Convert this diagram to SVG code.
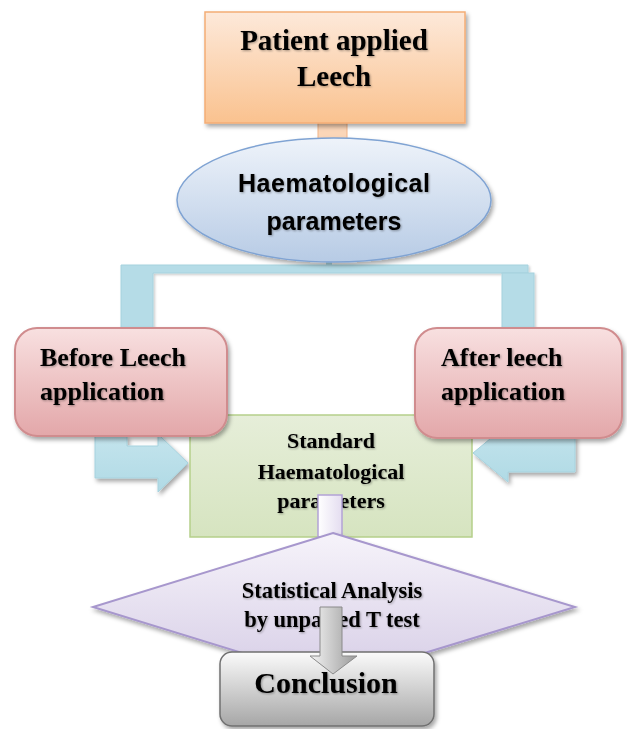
<svg xmlns="http://www.w3.org/2000/svg" width="627" height="729" viewBox="0 0 627 729">
<defs>
<linearGradient id="gOrange" x1="0" y1="0" x2="0" y2="1"><stop offset="0" stop-color="#fde9da"/><stop offset="1" stop-color="#fac28f"/></linearGradient>
<linearGradient id="gBlue" x1="0" y1="0" x2="0" y2="1"><stop offset="0" stop-color="#eef3fa"/><stop offset="1" stop-color="#b7cbe5"/></linearGradient>
<linearGradient id="gPink" x1="0" y1="0" x2="0" y2="1"><stop offset="0" stop-color="#f8e0e0"/><stop offset="1" stop-color="#e3a7a9"/></linearGradient>
<linearGradient id="gGreen" x1="0" y1="0" x2="0" y2="1"><stop offset="0" stop-color="#e6eed9"/><stop offset="1" stop-color="#d6e4c0"/></linearGradient>
<linearGradient id="gLav" x1="0" y1="0" x2="0" y2="1"><stop offset="0" stop-color="#f6f3fa"/><stop offset="1" stop-color="#d6cde6"/></linearGradient>
<linearGradient id="gLavC" x1="0" y1="0" x2="1" y2="0"><stop offset="0" stop-color="#ffffff"/><stop offset="1" stop-color="#e4ddf0"/></linearGradient>
<linearGradient id="gGray" x1="0" y1="0" x2="0" y2="1"><stop offset="0" stop-color="#fbfbfb"/><stop offset="1" stop-color="#a6a6a6"/></linearGradient>
<linearGradient id="gGrayA" x1="0" y1="0" x2="1" y2="0"><stop offset="0" stop-color="#f4f4f4"/><stop offset="1" stop-color="#9a9a9a"/></linearGradient>
<linearGradient id="gArrow" x1="0" y1="0" x2="0" y2="1"><stop offset="0" stop-color="#c4e4ed"/><stop offset="1" stop-color="#b0dae5"/></linearGradient>
<filter id="sh" x="-10%" y="-10%" width="125%" height="130%"><feDropShadow dx="2" dy="3" stdDeviation="2" flood-color="#000" flood-opacity="0.35"/></filter>
<filter id="shs" x="-10%" y="-10%" width="125%" height="130%"><feDropShadow dx="1.5" dy="1.5" stdDeviation="1" flood-color="#000" flood-opacity="0.2"/></filter>
<filter id="tsh" x="-5%" y="-20%" width="110%" height="150%"><feDropShadow dx="1" dy="1" stdDeviation="0.8" flood-color="#000" flood-opacity="0.35"/></filter>
</defs>
<style>
.serif{font-family:"Liberation Serif","Times New Roman",serif;font-weight:bold;fill:#000}
.sans{font-family:"Liberation Sans",Arial,sans-serif;font-weight:bold;fill:#000}
.blue{fill:#b5dce7;stroke:#a6d2de;stroke-width:1}
.bluea{fill:url(#gArrow);stroke:#a6d2de;stroke-width:1}
</style>

<g id="connectors">
  <rect x="318" y="122" width="29" height="20" fill="#fbd6b8" stroke="#f2b386" stroke-width="1"/>
  <rect x="326" y="232" width="6" height="36" fill="#b5dce7"/>
  <g filter="url(#shs)">
    <polygon class="blue" points="121,265 528,265 528,273 153,273 153,328 121,328"/>
    <rect class="blue" x="502" y="273" width="32" height="55"/>
  </g>
  <g filter="url(#sh)">
    <polygon class="bluea" points="95,436 127,436 127,446 158,446 158,434 188,463 158,492 158,478 95,478"/>
    <polygon class="bluea" points="575,436 575,472 508,472 508,482 473,453 508,424 508,436"/>
  </g>
</g>

<g id="n-standard">
  <rect x="190" y="415" width="282" height="122" fill="url(#gGreen)" stroke="#b5cf8a" stroke-width="1.5"/>
  <text class="serif" font-size="22" text-anchor="middle" x="331" y="448" filter="url(#tsh)">Standard</text>
  <text class="serif" font-size="22" text-anchor="middle" x="331" y="479" filter="url(#tsh)">Haematological</text>
  <text class="serif" font-size="22" text-anchor="middle" x="331" y="508" filter="url(#tsh)">parameters</text>
</g>

<g id="n-patient">
  <rect x="205" y="12" width="260" height="111" fill="url(#gOrange)" stroke="#f4ad76" stroke-width="1.5" filter="url(#sh)"/>
  <text class="serif" font-size="29" text-anchor="middle" x="334" y="50" filter="url(#tsh)">Patient applied</text>
  <text class="serif" font-size="29" text-anchor="middle" x="334" y="86" filter="url(#tsh)">Leech</text>
</g>

<g id="n-haem">
  <ellipse cx="334" cy="200" rx="157" ry="62" fill="url(#gBlue)" stroke="#7fa3d3" stroke-width="1.5" filter="url(#sh)"/>
  <text class="sans" font-size="25" text-anchor="middle" x="334" y="192" textLength="192" filter="url(#tsh)">Haematological</text>
  <text class="sans" font-size="25" text-anchor="middle" x="334" y="230" filter="url(#tsh)">parameters</text>
</g>

<g id="n-before">
  <rect x="15" y="328" width="212" height="108" rx="22" fill="url(#gPink)" stroke="#d08c8e" stroke-width="2" filter="url(#sh)"/>
  <text class="serif" font-size="26" x="40" y="366" filter="url(#tsh)">Before Leech</text>
  <text class="serif" font-size="26" x="40" y="400" filter="url(#tsh)">application</text>
</g>

<g id="n-after">
  <rect x="415" y="328" width="207" height="110" rx="22" fill="url(#gPink)" stroke="#d08c8e" stroke-width="2" filter="url(#sh)"/>
  <text class="serif" font-size="26" x="441" y="366" filter="url(#tsh)">After leech</text>
  <text class="serif" font-size="26" x="441" y="400" filter="url(#tsh)">application</text>
</g>

<g id="connector-2">
  <rect x="318" y="495" width="24" height="42" fill="url(#gLavC)" stroke="#b3a3d6" stroke-width="1.5"/>
</g>

<g id="n-stat">
  <polygon points="333,533 575,607 333,681 93,607" fill="url(#gLav)" stroke="#a797cd" stroke-width="2" filter="url(#sh)"/>
  <text class="serif" font-size="22.5" text-anchor="middle" x="332" y="598" filter="url(#tsh)">Statistical Analysis</text>
  <text class="serif" font-size="22.5" text-anchor="middle" x="332" y="627" filter="url(#tsh)">by unpaired T test</text>
</g>

<g id="n-conclusion">
  <rect x="220" y="652" width="214" height="74" rx="12" fill="url(#gGray)" stroke="#707070" stroke-width="1.5" filter="url(#sh)"/>
  <text class="serif" font-size="30" text-anchor="middle" x="326" y="693" filter="url(#tsh)">Conclusion</text>
</g>

<g id="connector-3">
  <polygon points="320,607 342,607 342,656 357,656 333,674 310,656 320,656" fill="url(#gGrayA)" stroke="#8a8a8a" stroke-width="1"/>
</g>
</svg>
